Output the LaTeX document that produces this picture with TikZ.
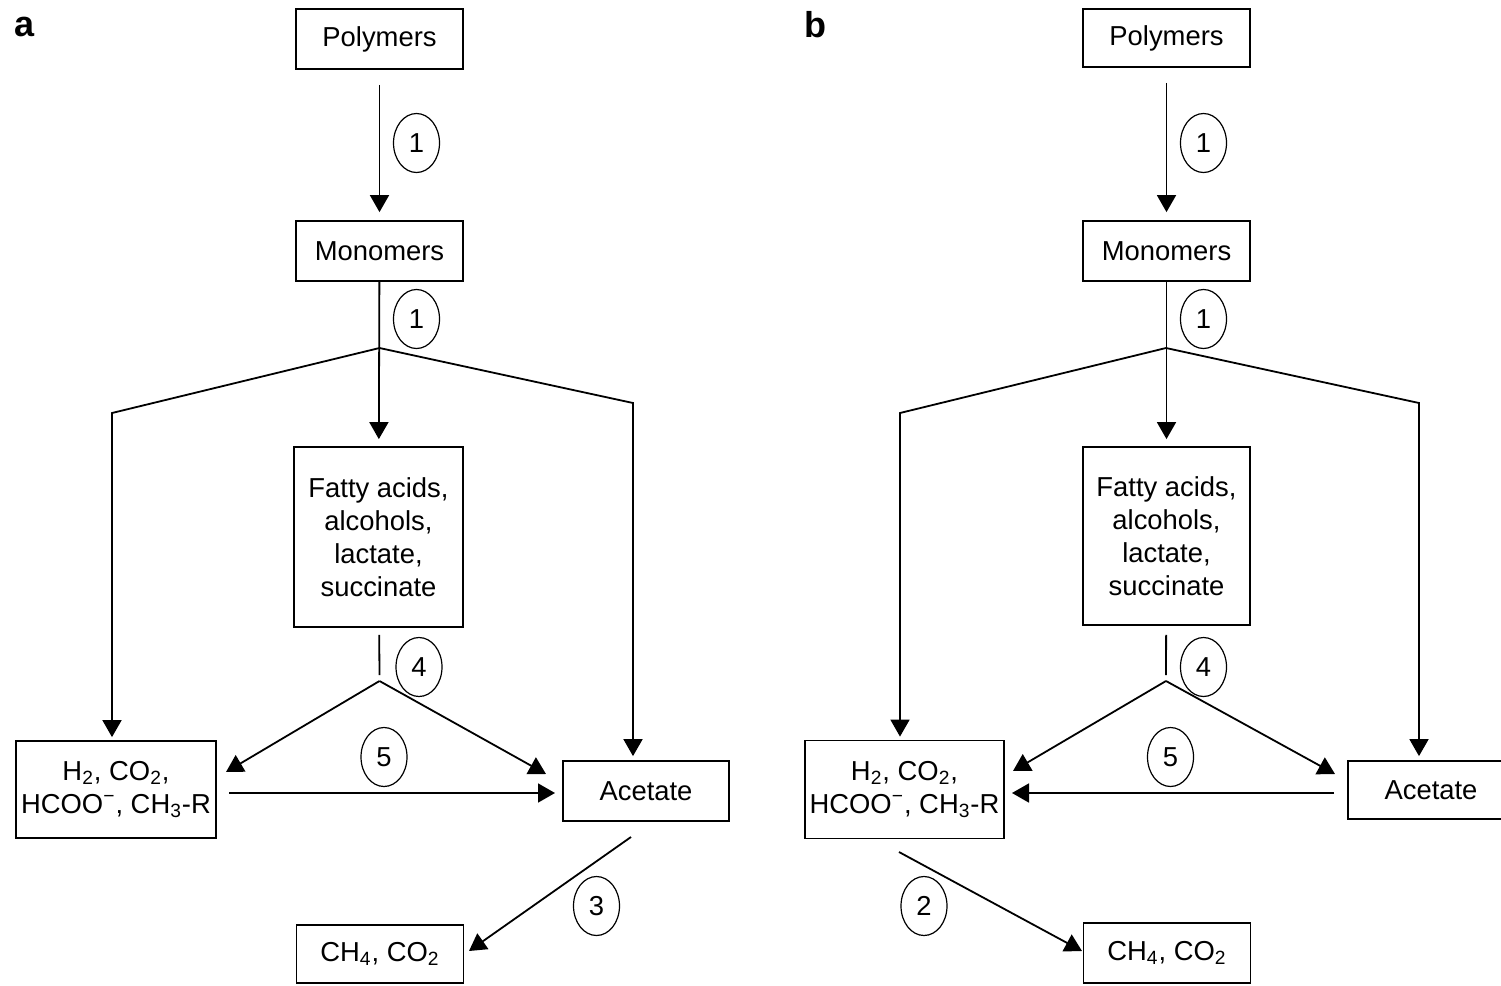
\documentclass[tikz,border=0pt]{standalone}
\usepackage{fontspec}
\setmainfont{Liberation Sans}
\usetikzlibrary{arrows.meta,shapes.geometric}
\begin{document}
\begin{tikzpicture}[x=0.5pt,y=-0.5pt,
  box/.style={draw,line width=0.9pt,inner sep=0pt,align=center,minimum width=83.5pt,minimum height=30pt,font=\fontsize{13.7}{16.5}\selectfont},
  hbox/.style={box,font=\fontsize{13.7}{16.3}\selectfont},
  num/.style={draw,ellipse,line width=0.6pt,minimum width=23pt,minimum height=29.5pt,inner sep=0pt,font=\fontsize{13.7}{16.5}\selectfont},
  arr/.style={line width=0.9pt,-{Triangle[length=8.5pt,width=9.5pt]}},
  ln/.style={line width=0.9pt},
  panel/.style={font=\fontsize{18}{20}\selectfont\bfseries}]
\clip (0,0) rectangle (1501,986);
\fill[white] (0,0) rectangle (1501,986);

% ---------- panel a ----------
\node[panel] (la) at (25,27) {a};
\node[box] (polyA) at (379.5,39) {Polymers};
\node[box] (monoA) at (379.5,251) {Monomers};
\node[box,minimum width=84.5pt,minimum height=90pt] (fattyA) at (378.5,537) {Fatty acids,\\alcohols,\\lactate,\\succinate};
\node[hbox,minimum width=100pt,minimum height=48.5pt] (hA) at (116,789.5) {H\textsubscript{2}, CO\textsubscript{2},\\HCOO\textsuperscript{\char"2212}, CH\textsubscript{3}-R};
\node[box,minimum width=83pt] (acA) at (646,791) {Acetate};
\node[box,minimum height=29pt] (chA) at (380,954) {CH\textsubscript{4}, CO\textsubscript{2}};

\node[num] (n1aA) at (416.5,143) {1};
\node[num] (n1bA) at (416.5,319) {1};
\node[num] (n4A) at (419,667) {4};
\node[num] (n5A) at (384,757) {5};
\node[num] (n3A) at (596.5,906) {3};

\coordinate (brA) at (379.5,348);
\coordinate (klA) at (112,413);
\coordinate (krA) at (633,403);
\coordinate (v4A) at (379.5,675);
\coordinate (br4A) at (379.5,681);
\coordinate (t4lA) at (226,772);
\coordinate (t4rA) at (546,774);
\coordinate (s5A) at (229,793);
\coordinate (e5A) at (555,793);
\coordinate (s3A) at (631,837);
\coordinate (e3A) at (469,951);

\draw[arr,shorten <=7.5pt,shorten >=4pt] (polyA) -- (monoA);
\draw[arr,shorten >=3.5pt] (monoA) -- (fattyA);
\draw[arr,shorten >=1.5pt] (brA) -- (klA) -- (klA |- hA.north);
\draw[arr,shorten >=2pt] (brA) -- (krA) -- (krA |- acA.north);
\draw[ln,shorten <=3.5pt] (fattyA) -- (v4A);
\draw[arr] (br4A) -- (t4lA);
\draw[arr] (br4A) -- (t4rA);
\draw[arr] (s5A) -- (e5A);
\draw[arr] (s3A) -- (e3A);

% ---------- panel b ----------
\node[panel] (lb) at (815,25) {b};
\node[box,minimum height=29pt] (polyB) at (1166.5,38) {Polymers};
\node[box] (monoB) at (1166.5,251) {Monomers};
\node[box,minimum height=89pt] (fattyB) at (1166.5,536) {Fatty acids,\\alcohols,\\lactate,\\succinate};
\node[hbox,minimum width=99.5pt,minimum height=49pt] (hB) at (904.5,789.5) {H\textsubscript{2}, CO\textsubscript{2},\\HCOO\textsuperscript{\char"2212}, CH\textsubscript{3}-R};
\node[box,minimum width=83pt,minimum height=29pt] (acB) at (1431,790) {Acetate};
\node[box] (chB) at (1167,953) {CH\textsubscript{4}, CO\textsubscript{2}};

\node[num] (n1aB) at (1203.5,143) {1};
\node[num] (n1bB) at (1203.5,319) {1};
\node[num] (n4B) at (1203.5,667) {4};
\node[num] (n5B) at (1170.5,757) {5};
\node[num] (n2B) at (924,906) {2};

\coordinate (brB) at (1166,348);
\coordinate (klB) at (900,413);
\coordinate (krB) at (1419,403);
\coordinate (v4B) at (1166,675);
\coordinate (br4B) at (1166,681);
\coordinate (t4lB) at (1013,771);
\coordinate (t4rB) at (1335,774);
\coordinate (s5B) at (1334,793);
\coordinate (e5B) at (1012,793);
\coordinate (s2B) at (899,852);
\coordinate (e2B) at (1082,951);

\draw[arr,shorten <=7.5pt,shorten >=4pt] (polyB) -- (monoB);
\draw[arr,shorten >=3.5pt] (monoB) -- (fattyB);
\draw[arr,shorten >=1.5pt] (brB) -- (klB) -- (klB |- hB.north);
\draw[arr,shorten >=2pt] (brB) -- (krB) -- (krB |- acB.north);
\draw[ln,shorten <=4.5pt] (fattyB) -- (v4B);
\draw[arr] (br4B) -- (t4lB);
\draw[arr] (br4B) -- (t4rB);
\draw[arr] (s5B) -- (e5B);
\draw[arr] (s2B) -- (e2B);
\end{tikzpicture}
\end{document}
